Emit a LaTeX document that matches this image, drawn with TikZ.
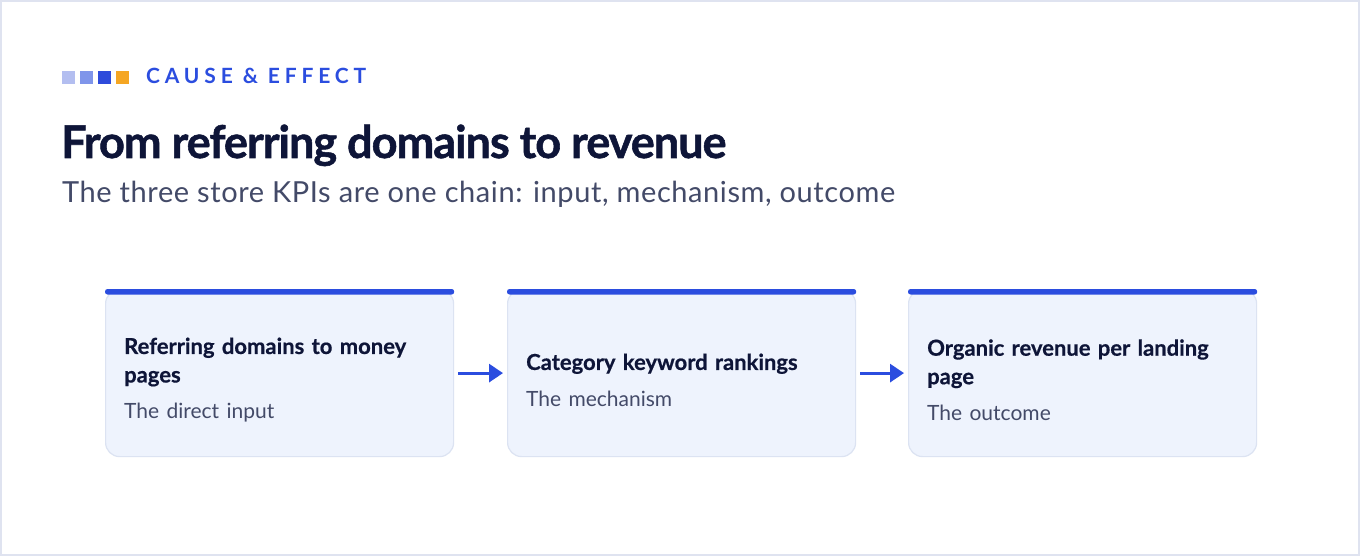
\documentclass[tikz,border=0pt]{standalone}
\usepackage{fontspec}
\setmainfont{Lato}
\newfontfamily\titlefont[LetterSpace=-2.2,FakeBold=1.2]{Lato}
\newfontfamily\kickerfont[LetterSpace=23]{Lato}
\newfontfamily\leadfont[LetterSpace=2]{Lato}
\newfontfamily\headfont[FakeBold=0.6]{Lato}
\usetikzlibrary{arrows.meta,positioning,calc}

\definecolor{frameline}{HTML}{DFE3F0}
\definecolor{accent}{HTML}{2B4DDF}
\definecolor{ink}{HTML}{0E1538}
\definecolor{slate}{HTML}{434A68}
\definecolor{cardfill}{HTML}{EEF3FD}
\definecolor{cardline}{HTML}{DCE3F2}
\definecolor{sqA}{HTML}{B3BEF0}
\definecolor{sqB}{HTML}{7F95EA}
\definecolor{sqC}{HTML}{2E4BDB}
\definecolor{sqD}{HTML}{F5A623}

\begin{document}
\begin{tikzpicture}[
    x=1pt, y=-1pt,
    card/.style={draw=cardline, line width=1.2pt, fill=cardfill, rounded corners=14pt,
                 minimum width=348pt, minimum height=167pt, anchor=north west},
    cardtext/.style={anchor=west, align=left, text width=315pt, inner sep=0pt,
                     text=ink, font=\fontsize{22}{28.5}\selectfont},
    sq/.style={minimum size=13pt, inner sep=0pt, anchor=north west},
    arrow/.style={-{Triangle[length=14pt,width=18pt]}, line width=3pt, accent},
    every node/.style={inner sep=0pt}
]
\useasboundingbox (0,0) rectangle (1360,556);
\draw[frameline, line width=2pt, fill=white] (1,1) rectangle (1359,555);

% eyebrow
\node[sq, fill=sqA] (sq1) at (62,71) {};
\node[sq, fill=sqB] (sq2) at (80,71) {};
\node[sq, fill=sqC] (sq3) at (98,71) {};
\node[sq, fill=sqD] (sq4) at (116,71) {};
\node[anchor=base west, text=accent, font=\kickerfont\bfseries\fontsize{21}{24}\selectfont]
     (kicker) at (146,84) {CAUSE \& EFFECT};

% heading
\node[anchor=base west, text=ink, font=\titlefont\bfseries\fontsize{45}{50}\selectfont]
     (title) at (61,158) {From referring domains to revenue};
\node[anchor=base west, text=slate, font=\leadfont\fontsize{29}{32}\selectfont]
     (subtitle) at (62,203) {The three store KPIs are one chain: input, mechanism, outcome};

% cards
\node[card] (input) at (105,289) {};
\node[card] (mech) at (507,289) {};
\node[card] (outcome) at (908,289) {};
\foreach \c in {input,mech,outcome} {
    \fill[accent, rounded corners=2.5pt] (\c.north west) rectangle ($(\c.north east)+(0,5.5)$);
}

\node[cardtext] (inputtxt) at ($(input.west)+(19,7)$)
     {{\headfont\bfseries Referring domains to money pages}\\[8pt]
      {\color{slate}\fontsize{21}{24}\selectfont The direct input}};
\node[cardtext] (mechtxt) at ($(mech.west)+(19,7)$)
     {{\headfont\bfseries Category keyword rankings}\\[8pt]
      {\color{slate}\fontsize{21}{24}\selectfont The mechanism}};
\node[cardtext] (outcometxt) at ($(outcome.west)+(19,7)$)
     {{\headfont\bfseries Organic revenue per landing page}\\[8pt]
      {\color{slate}\fontsize{21}{24}\selectfont The outcome}};

\draw[arrow] ($(input.east)+(4,0)$) -- ($(mech.west)+(-4,0)$);
\draw[arrow] ($(mech.east)+(4,0)$) -- ($(outcome.west)+(-4,0)$);
\end{tikzpicture}
\end{document}
